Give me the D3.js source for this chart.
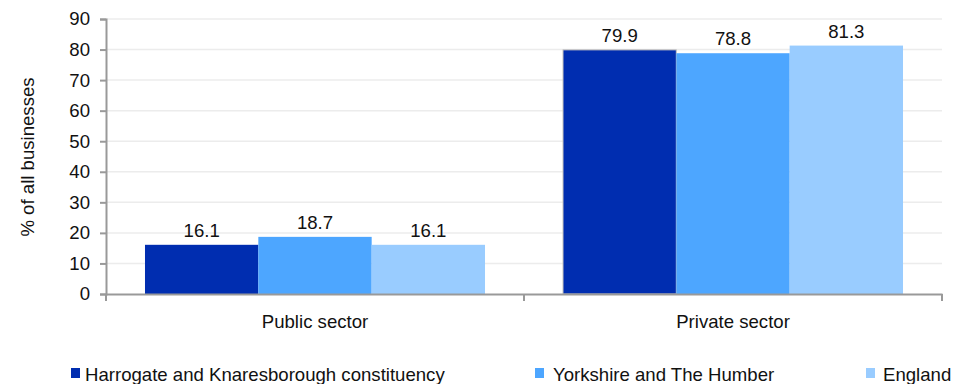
<!DOCTYPE html>
<html><head><meta charset="utf-8">
<script src="https://cdn.jsdelivr.net/npm/d3@7"></script>
<style>body{margin:0;background:#fff}svg{display:block}</style>
</head><body>
<svg id="c" width="973" height="384"></svg>
<script>
const categories = ["Public sector", "Private sector"];
const series = ["Harrogate and Knaresborough constituency", "Yorkshire and The Humber", "England"];
const harrogate = [16.1, 79.9];
const yorkshire = [18.7, 78.8];
const england = [16.1, 81.3];
const yTicks = [0,10,20,30,40,50,60,70,80,90];
const colors = ["#002db0", "#4da6ff", "#99ccff"];
const values = [harrogate, yorkshire, england];

const svg = d3.select("#c");
const m = {left:106, right:942, top:19, bottom:294};
const font = "'Liberation Sans', Arial, sans-serif";
const fs = 18.6;

const y = d3.scaleLinear().domain([0,90]).range([m.bottom, m.top]);
const x0 = d3.scaleBand().domain(categories).range([m.left, m.right]).padding(0);
const x1 = d3.scaleBand().domain(series).range([0, x0.bandwidth()]).paddingInner(0).paddingOuter(0.344);

// gridlines
svg.append("g").selectAll("line").data(yTicks.filter(d=>d>0)).join("line")
  .attr("x1", m.left).attr("x2", m.right)
  .attr("y1", d=>y(d)).attr("y2", d=>y(d))
  .attr("stroke", "#ececec").attr("stroke-width", 1.5);

// bars
const g = svg.append("g");
categories.forEach((c, ci) => {
  series.forEach((s, si) => {
    const v = values[si][ci];
    const r = g.append("rect")
      .attr("x", x0(c) + x1(s)).attr("y", y(v))
      .attr("width", x1.bandwidth()).attr("height", y(0) - y(v))
      .attr("fill", colors[si]);
    if (ci === 1 && si === 0) r.attr("stroke", "#c9c6c0").attr("stroke-width", 1);
    g.append("text")
      .attr("x", x0(c) + x1(s) + x1.bandwidth()/2).attr("y", y(v) - 8)
      .attr("text-anchor", "middle").attr("font-family", font).attr("font-size", fs)
      .attr("fill", "#111").text(v.toFixed(1));
  });
});

// y axis
const ya = svg.append("g").attr("transform", `translate(${m.left},0)`)
  .call(d3.axisLeft(y).tickValues(yTicks).tickSize(6).tickPadding(10));
ya.select(".domain").attr("stroke", "#999").attr("stroke-width", 2);
ya.selectAll(".tick line").attr("stroke", "#999").attr("stroke-width", 2);
ya.selectAll(".tick text").attr("font-family", font).attr("font-size", fs).attr("fill", "#111");

// x axis
const xa = svg.append("g").attr("transform", `translate(0,${m.bottom})`)
  .call(d3.axisBottom(x0).tickSize(0).tickPadding(21));
xa.select(".domain").attr("stroke", "#999").attr("stroke-width", 2);
xa.selectAll(".tick text").attr("font-family", font).attr("font-size", fs).attr("fill", "#111");
// category boundary ticks
svg.append("g").selectAll("line").data([m.left, x0(categories[1]), m.right]).join("line")
  .attr("x1", d=>d).attr("x2", d=>d).attr("y1", m.bottom).attr("y2", m.bottom+7)
  .attr("stroke", "#999").attr("stroke-width", 2);

// y title
svg.append("text").attr("transform", "translate(34,157) rotate(-90)")
  .attr("text-anchor", "middle").attr("font-family", font).attr("font-size", fs)
  .attr("fill", "#111").text("% of all businesses");

// legend
const legX = [71, 535, 866];
const legT = [85, 553, 883];
const leg = svg.append("g");
series.forEach((s, i) => {
  leg.append("rect").attr("x", legX[i]).attr("y", 368).attr("width", 9).attr("height", 10).attr("fill", colors[i]);
  leg.append("text").attr("x", legT[i]).attr("y", 381)
    .attr("font-family", font).attr("font-size", fs)
    .attr("fill", "#111").text(s);
});
</script>
</body></html>
